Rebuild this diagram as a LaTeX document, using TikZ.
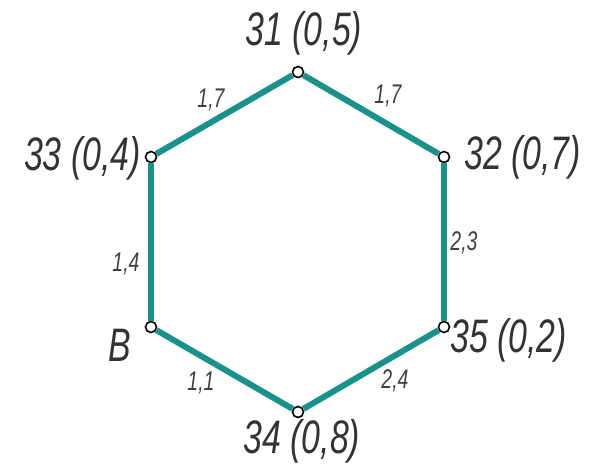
\documentclass[tikz,border=0pt]{standalone}
\usepackage{fontspec}
\setmainfont{Liberation Sans}[FakeStretch=0.72]
\definecolor{edgeteal}{RGB}{26,146,140}
\begin{document}
\begin{tikzpicture}[x=1pt,y=-1pt,
  vtx/.style={circle,draw=black,fill=white,line width=1.6pt,inner sep=0pt,minimum size=11pt},
  edge/.style={draw=edgeteal,line width=6pt},
  big/.style={font=\fontsize{47}{47}\selectfont\itshape,text=black!80,inner sep=0pt},
  small/.style={font=\fontsize{27}{27}\selectfont\itshape,text=black!75,inner sep=0pt}]
\useasboundingbox (0,0) rectangle (598,468);
\node[vtx] (v31) at (298,72) {};
\node[vtx] (v32) at (444,157) {};
\node[vtx] (v35) at (444,327) {};
\node[vtx] (v34) at (298,412) {};
\node[vtx] (vB) at (151,327) {};
\node[vtx] (v33) at (151,157) {};
\draw[edge] (v31) -- (v32);
\draw[edge] (v32) -- (v35);
\draw[edge] (v35) -- (v34);
\draw[edge] (v34) -- (vB);
\draw[edge] (vB) -- (v33);
\draw[edge] (v33) -- (v31);
\node[big] (l31) at (304,33) {31 (0,5)};
\node[big,anchor=east] (l33) at (141,158) {33 (0,4)};
\node[big,anchor=west] (l32) at (464,157) {32 (0,7)};
\node[big,anchor=east] (lB) at (131,345) {B};
\node[big,anchor=west] (l35) at (450,340) {35 (0,2)};
\node[big] (l34) at (302,441) {34 (0,8)};
\node[small] (e1) at (211,100) {1,7};
\node[small] (e2) at (388,96) {1,7};
\node[small] (e3) at (126,264) {1,4};
\node[small] (e4) at (464,243) {2,3};
\node[small] (e5) at (201,383) {1,1};
\node[small] (e6) at (395,381) {2,4};
\end{tikzpicture}
\end{document}
